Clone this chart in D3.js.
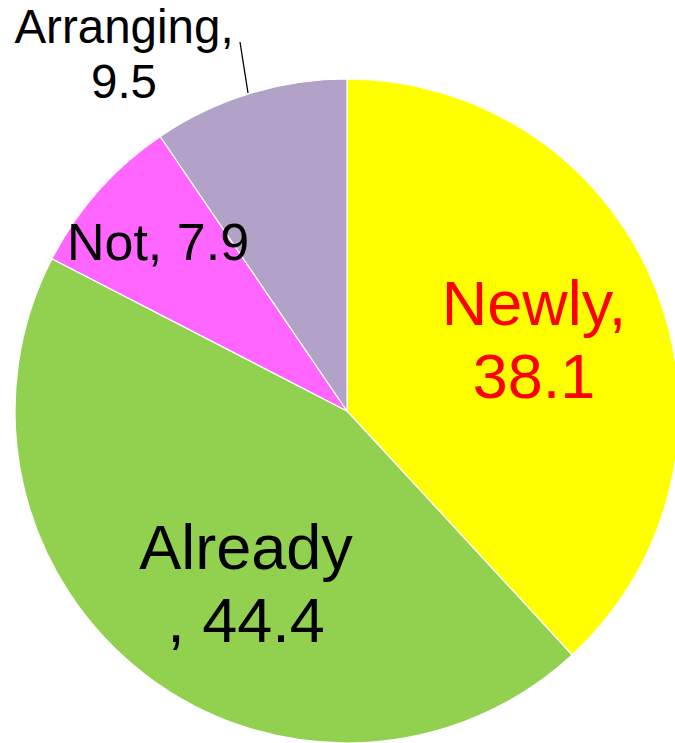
<!DOCTYPE html>
<html>
<head>
<meta charset="utf-8">
<script src="https://cdn.jsdelivr.net/npm/d3@7"></script>
<style>
  html, body { margin: 0; padding: 0; background: #fff; }
  svg { display: block; }
</style>
</head>
<body>
<svg id="chart" width="675" height="743"></svg>
<script>
// Share of respondents by status (percent)
const categories = ["Newly", "Already", "Not", "Arranging"];
const values = [38.1, 44.4, 7.9, 9.5];
const colors = ["#FFFF00", "#92D050", "#FF66FF", "#B3A2C7"];
const labelColors = ["#FF0000", "#000000", "#000000", "#000000"];

const width = 675, height = 743;
const cx = 347, cy = 411, radius = 332;

const svg = d3.select("#chart");
const g = svg.append("g").attr("transform", `translate(${cx},${cy})`);

const data = categories.map((c, i) => ({ name: c, value: values[i], color: colors[i], labelColor: labelColors[i] }));

const pie = d3.pie().value(d => d.value).sort(null);
const arc = d3.arc().innerRadius(0).outerRadius(radius);
const arcs = pie(data);

g.selectAll("path.slice")
  .data(arcs)
  .join("path")
  .attr("class", "slice")
  .attr("d", arc)
  .attr("fill", d => d.data.color)
  .attr("stroke", "#fff")
  .attr("stroke-width", 1.2);

// Label layout: text lines, anchor (first baseline, relative to pie centre), size, line gap
const labelLayout = {
  Newly:     { lines: d => [d.name + ",", d.value.toFixed(1)], at: [534 - cx, 325 - cy], size: 63, gap: 73 },
  Already:   { lines: d => [d.name, ", " + d.value.toFixed(1)], at: [246 - cx, 569 - cy], size: 63, gap: 73 },
  Not:       { lines: d => [d.name + ", " + d.value.toFixed(1)], at: [158 - cx, 260 - cy], size: 52, gap: 0 },
  Arranging: { lines: d => [d.name + ",", d.value.toFixed(1)], at: [124 - cx, 43 - cy], size: 47.5, gap: 55 }
};

arcs.forEach(a => {
  const d = a.data;
  const L = labelLayout[d.name];
  const [x, y0] = L.at;
  const t = g.append("text")
    .attr("text-anchor", "middle")
    .attr("font-family", "'Liberation Sans', Arial, sans-serif")
    .attr("font-size", L.size)
    .attr("fill", d.labelColor);
  L.lines(d).forEach((ln, i) => {
    t.append("tspan").attr("x", x).attr("y", y0 + i * L.gap).text(ln);
  });
});

// Leader line for the small "Arranging" slice
g.append("line")
  .attr("x1", 240 - cx).attr("y1", 42 - cy)
  .attr("x2", 248 - cx).attr("y2", 93 - cy)
  .attr("stroke", "#000")
  .attr("stroke-width", 1.3);
</script>
</body>
</html>
